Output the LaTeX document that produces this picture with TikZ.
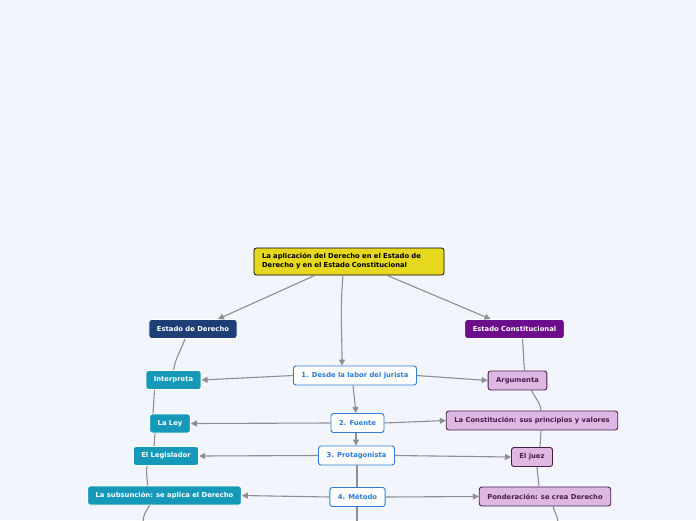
\documentclass[tikz,border=0pt]{standalone}
\usepackage{fontspec}
\setmainfont{DejaVu Sans}
\usetikzlibrary{arrows.meta,positioning}
\definecolor{bgc}{HTML}{F3F5FD}
\definecolor{lnc}{HTML}{8E8E93}
\definecolor{rootc}{HTML}{E6D81E}
\definecolor{edc}{HTML}{1E3F75}
\definecolor{ecc}{HTML}{6C0D8B}
\definecolor{tealc}{HTML}{1699B8}
\definecolor{lilac}{HTML}{DCB8E2}
\definecolor{plum}{HTML}{4A1C4C}
\definecolor{bluec}{HTML}{2A7BDA}
\tikzset{
  topic/.style={rectangle,draw,rounded corners=2.5pt,minimum height=19pt,inner xsep=8pt,inner ysep=2pt,line width=0.9pt,font=\fontsize{6.8}{9}\selectfont\bfseries},
  central/.style={topic,fill=rootc,draw=black,line width=0.7pt,text width=174pt,align=left,minimum height=27pt},
  rulenode/.style={topic,fill=edc,draw=white,text=white},
  constnode/.style={topic,fill=ecc,draw=white,text=white},
  stepnode/.style={topic,fill=white,draw=bluec,text=bluec},
  leftnode/.style={topic,fill=tealc,draw=white,text=white},
  rightnode/.style={topic,fill=lilac,draw=plum,text=plum},
  link/.style={draw=lnc,line width=1.1pt},
  arr/.style={link,-{Triangle[length=6pt,width=6pt]}},
}
\begin{document}
\begin{tikzpicture}[x=1pt,y=-1pt]
  \useasboundingbox[fill=bgc] (0,0) rectangle (696,520);
  % main topic and the two models
  \node[central] (root) at (349,261.5) {La aplicación del Derecho en el Estado de\\Derecho y en el Estado Constitucional};
  \node[rulenode] (ederecho) at (193,329) {Estado de Derecho};
  \node[constnode] (econst) at (514.5,329) {Estado Constitucional};
  % central steps
  \node[stepnode] (desde) at (355,375.5) {1. Desde la labor del jurista};
  \node[stepnode] (fuente) at (357.5,423) {2. Fuente};
  \node[stepnode] (protag) at (356.5,455.5) {3. Protagonista};
  \node[stepnode] (metodo) at (357.5,497) {4. Método};
  % left side
  \node[leftnode] (interpreta) at (173.5,380) {Interpreta};
  \node[leftnode] (laley) at (170,423.5) {La Ley};
  \node[leftnode] (legislador) at (166,456) {El Legislador};
  \node[leftnode] (subsuncion) at (164.5,495.5) {La subsunción: se aplica el Derecho};
  % right side
  \node[rightnode] (argumenta) at (517.5,380.5) {Argumenta};
  \node[rightnode] (constit) at (532,420.5) {La Constitución: sus principios y valores};
  \node[rightnode] (juez) at (532,457) {El juez};
  \node[rightnode] (ponderacion) at (545,496.5) {Ponderación: se crea Derecho};
  \coordinate (leftend) at (143,522);
  \coordinate (rightend) at (558,522);
  \coordinate (midend) at (357,522);

  % from the main topic
  \draw[arr] ([xshift=-34pt]root.south) -- ([xshift=25pt]ederecho.north);
  \draw[arr] ([xshift=38pt]root.south) -- ([xshift=-24pt]econst.north);
  \draw[arr] ([xshift=-6pt]root.south) to[out=-95,in=90] ([xshift=-13pt]desde.north);

  % down the steps
  \draw[arr] ([xshift=-2pt]desde.south) -- ([xshift=-1.5pt]fuente.north);
  \draw[arr] ([xshift=-1.5pt]fuente.south) -- ([xshift=-0.5pt]protag.north);
  \draw[link] ([xshift=0.5pt]protag.south) -- ([xshift=-0.5pt]metodo.north);
  \draw[link] ([xshift=-0.5pt]metodo.south) -- (midend);

  % steps to both sides
  \draw[arr] (desde.west) -- (interpreta.east);
  \draw[arr] (desde.east) -- (argumenta.west);
  \draw[arr] (fuente.west) -- (laley.east);
  \draw[arr] (fuente.east) -- (constit.west);
  \draw[arr] (protag.west) -- (legislador.east);
  \draw[arr] (protag.east) -- (juez.west);
  \draw[arr] (metodo.west) -- (subsuncion.east);
  \draw[arr] (metodo.east) -- (ponderacion.west);

  % left chain
  \draw[link] ([xshift=-8pt]ederecho.south) to[out=-110,in=80] (interpreta.north);
  \draw[link] ([xshift=-19pt]interpreta.south) -- ([xshift=-17pt]laley.north);
  \draw[link] ([xshift=-15pt]laley.south) -- ([xshift=-12pt]legislador.north);
  \draw[link] ([xshift=-19pt]legislador.south) to[out=-100,in=90] ([xshift=-17pt]subsuncion.north);
  \draw[link] ([xshift=-15pt]subsuncion.south) to[out=-120,in=90] (leftend);

  % right chain
  \draw[link] ([xshift=8pt]econst.south) to[out=-85,in=95] ([xshift=7pt]argumenta.south |- argumenta.north);
  \draw[link] ([xshift=14pt]argumenta.south) to[out=-65,in=95] ([xshift=9pt]constit.north);
  \draw[link] ([xshift=9pt]constit.south) -- ([xshift=8pt]juez.north);
  \draw[link] ([xshift=5pt]juez.south) -- ([xshift=-6pt]ponderacion.north);
  \draw[link] ([xshift=8pt]ponderacion.south) to[out=-75,in=95] (rightend);
\end{tikzpicture}
\end{document}
